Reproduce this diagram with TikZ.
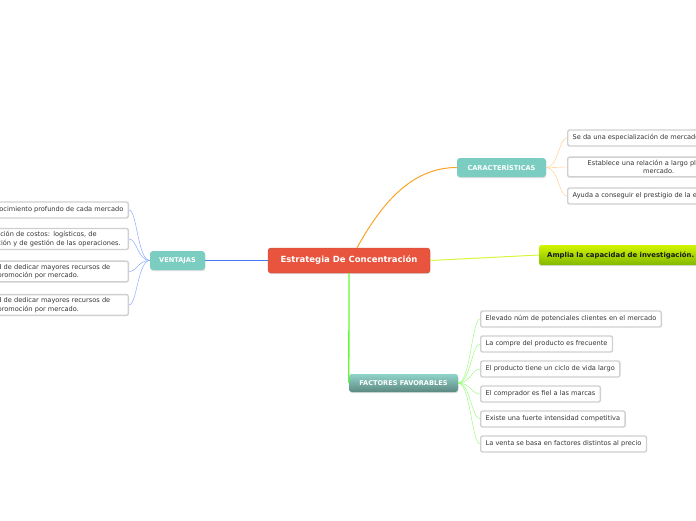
\documentclass[tikz,border=0pt]{standalone}
\usepackage{fontspec}
\setmainfont{DejaVu Sans}
\usepackage{tikz}
\usetikzlibrary{shadows}
\definecolor{rojo}{RGB}{232,84,62}
\definecolor{turquesa}{RGB}{124,205,193}
\definecolor{gristexto}{RGB}{51,51,51}
\definecolor{borde}{RGB}{208,208,208}
\newcommand{\txt}{\fontsize{6.6}{8.4}\selectfont}
\newcommand{\txtb}{\fontsize{6.6}{8}\selectfont\bfseries}
\tikzset{
  sombra/.style={drop shadow={shadow xshift=0.4pt,shadow yshift=-1.2pt,opacity=0.25}},
  central/.style={fill=rojo,draw=rojo!85!black,rounded corners=3pt,text=white,sombra,
    font=\fontsize{8.5}{10}\selectfont\bfseries,minimum width=162,minimum height=25},
  rama/.style={fill=turquesa,rounded corners=3pt,text=white,sombra,font=\txtb,minimum height=19},
  hoja/.style={fill=white,draw=borde,line width=1.4pt,rounded corners=2pt,text=gristexto,
    font=\txt,inner xsep=5,inner ysep=3,minimum height=16,align=center},
}
\begin{document}
\begin{tikzpicture}[x=1pt,y=-1pt]
\useasboundingbox (0,0) rectangle (696,520);
\clip (0,0) rectangle (696,520);

\node[central] (cen) at (349,260.5) {Estrategia De Concentración};
\node[rama,minimum width=55] (ven) at (177.5,260.5) {VENTAJAS};
\node[rama,minimum width=89] (car) at (501.5,167.5) {CARACTERÍSTICAS};
\node[rama,minimum width=109,minimum height=18,top color=turquesa!85!white,bottom color=turquesa!60!black!90]
  (fav) at (403.5,383) {FACTORES FAVORABLES};
\node[anchor=west,rounded corners=2pt,sombra,top color={rgb,255:red,210;green,245;blue,0},
  bottom color={rgb,255:red,130;green,185;blue,0},text=black!90,
  font=\fontsize{6.9}{8}\selectfont\bfseries,minimum height=20,
  inner xsep=8] (amp) at (539,255) {Amplia la capacidad de investigación.};

\node[hoja,anchor=east] (v1) at (129,210) {Conocimiento profundo de cada mercado};
\node[hoja,anchor=east,text width=170] (v2) at (129,239) {Reducción de costos: logísticos, de\\comercialización y de gestión de las operaciones.};
\node[hoja,anchor=east,text width=170] (v3) at (129,271.5) {Posibilidad de dedicar mayores recursos de\\promoción por mercado.};
\node[hoja,anchor=east,text width=170] (v4) at (129,305) {Posibilidad de dedicar mayores recursos de\\promoción por mercado.};

\node[hoja,anchor=west] (c1) at (567,138) {Se da una especialización de mercado};
\node[hoja,anchor=west,text width=172] (c2) at (567,167) {Establece una relación a largo plazo con el\\mercado.};
\node[hoja,anchor=west] (c3) at (567,196) {Ayuda a conseguir el prestigio de la empresa};

\node[hoja,anchor=west] (f1) at (480,319) {Elevado núm de potenciales clientes en el mercado};
\node[hoja,anchor=west] (f2) at (480,344) {La compre del producto es frecuente};
\node[hoja,anchor=west] (f3) at (480,369) {El producto tiene un ciclo de vida largo};
\node[hoja,anchor=west] (f4) at (480,394) {El comprador es fiel a las marcas};
\node[hoja,anchor=west] (f5) at (480,419) {Existe una fuerte intensidad competitiva};
\node[hoja,anchor=west] (f6) at (480,444) {La venta se basa en factores distintos al precio};

\draw[line width=1pt,color={rgb,255:red,70;green,120;blue,240}] (cen.west) -- (ven.east);
\draw[line width=1pt,color={rgb,255:red,250;green,165;blue,40}] ([xshift=8pt]cen.north) .. controls +(25,-45) and +(-45,0) .. (car.west);
\draw[line width=1pt,color={rgb,255:red,215;green,245;blue,60}] (cen.east) -- (amp.west);
\draw[line width=1.3pt,color={rgb,255:red,100;green,250;blue,50}] (cen.south) -- (fav.west);

\draw[color={rgb,255:red,120;green,155;blue,255}] (ven.west) .. controls +(-12,0) and +(8,0) .. (v1.east);
\draw[color={rgb,255:red,120;green,155;blue,255}] (ven.west) .. controls +(-12,0) and +(8,0) .. (v2.east);
\draw[color={rgb,255:red,120;green,155;blue,255}] (ven.west) .. controls +(-12,0) and +(8,0) .. (v3.east);
\draw[color={rgb,255:red,120;green,155;blue,255}] (ven.west) .. controls +(-12,0) and +(8,0) .. (v4.east);

\draw[color={rgb,255:red,255;green,200;blue,130}] (car.east) .. controls +(12,0) and +(-8,0) .. (c1.west);
\draw[color={rgb,255:red,255;green,200;blue,130}] (car.east) .. controls +(12,0) and +(-8,0) .. (c2.west);
\draw[color={rgb,255:red,255;green,200;blue,130}] (car.east) .. controls +(12,0) and +(-8,0) .. (c3.west);

\draw[color={rgb,255:red,140;green,250;blue,110}] (fav.east) .. controls +(12,0) and +(-8,0) .. (f1.west);
\draw[color={rgb,255:red,140;green,250;blue,110}] (fav.east) .. controls +(12,0) and +(-8,0) .. (f2.west);
\draw[color={rgb,255:red,140;green,250;blue,110}] (fav.east) .. controls +(12,0) and +(-8,0) .. (f3.west);
\draw[color={rgb,255:red,140;green,250;blue,110}] (fav.east) .. controls +(12,0) and +(-8,0) .. (f4.west);
\draw[color={rgb,255:red,140;green,250;blue,110}] (fav.east) .. controls +(12,0) and +(-8,0) .. (f5.west);
\draw[color={rgb,255:red,140;green,250;blue,110}] (fav.east) .. controls +(12,0) and +(-8,0) .. (f6.west);
\end{tikzpicture}
\end{document}
